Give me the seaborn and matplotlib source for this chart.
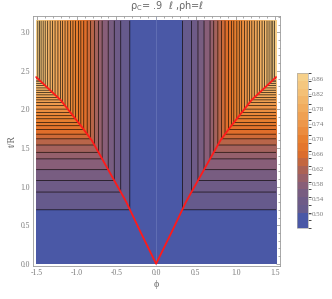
import numpy as np
import matplotlib
matplotlib.use("Agg")
import matplotlib.pyplot as plt
import seaborn as sns
from matplotlib.colors import LinearSegmentedColormap, BoundaryNorm
from matplotlib.cm import ScalarMappable
from matplotlib.ticker import MultipleLocator, FormatStrFormatter

# red boundary curve t_red(|phi|)
phi_red = [0.0, 0.2, 0.375, 0.44, 0.81, 0.94, 1.2, 1.51]
t_red = [0.0, 0.42, 0.80, 0.92, 1.60, 1.78, 2.12, 2.42]

# t positions of the horizontal contour lines (left/right of the V)
t_lines = [0.70, 0.93, 1.08, 1.22, 1.36, 1.445, 1.54, 1.62, 1.68, 1.74,
           1.79, 1.83, 1.88, 1.92, 1.96, 2.005, 2.05, 2.09, 2.125, 2.155,
           2.19, 2.22, 2.25, 2.28, 2.31, 2.335, 2.36, 2.38, 2.40]
t_read = [0.70, 1.00, 1.50, 1.70, 2.00, 2.25, 2.42]
v_read = [0.49, 0.525, 0.605, 0.66, 0.73, 0.80, 0.865]
base_value = 0.47   # blue region (t < 0.7)
top_value = 0.872   # value reached at the end of the red curve

cbar_ticks = [0.50, 0.54, 0.58, 0.62, 0.66, 0.70, 0.74, 0.78, 0.82, 0.86]

vmin, vmax = 0.463, 0.876
cmap = LinearSegmentedColormap.from_list("mma", [
    (0.00, "#4a58a6"), (0.06, "#4a58a6"), (0.07, "#625a8f"),
    (0.19, "#735c84"), (0.285, "#8e5f74"), (0.38, "#b0634f"),
    (0.48, "#e06e2a"), (0.575, "#e88030"), (0.67, "#ed9548"),
    (0.77, "#f0a85a"), (0.865, "#f3bb70"), (1.00, "#f6d08a")])

sns.set_style("white")
plt.rcParams["font.family"] = ["Liberation Serif", "DejaVu Sans"]

fig = plt.figure(figsize=(3.32, 2.99), dpi=100)
ax = fig.add_axes([0.0994, 0.110, 0.744, 0.836])

levels = list(np.interp(t_lines, t_read, v_read))

# field: depends on t below the red curve, on phi above it
phi = np.linspace(-1.51, 1.51, 1200)
t = np.linspace(0.0, 3.15, 1000)
P, T = np.meshgrid(phi, t)
S = np.minimum(T, np.interp(np.abs(P), phi_red, t_red))
F = np.interp(S, [0.0, 0.6999] + t_lines + [2.45],
              [base_value, base_value] + levels + [top_value])

bounds = [vmin] + levels + [vmax]
mids = [(a + b) / 2 for a, b in zip(bounds[:-1], bounds[1:])]
band_colors = [cmap((m - vmin) / (vmax - vmin)) for m in mids]
ax.contourf(P, T, F, levels=bounds, colors=band_colors)
ax.contour(P, T, F, levels=levels, colors="black", linewidths=0.55, alpha=0.8)
ax.axvline(0, color="#8a9ad0", lw=0.4, alpha=0.6)

# red curve
xr = [-v for v in phi_red[::-1]] + phi_red[1:]
yr = t_red[::-1] + t_red[1:]
sns.lineplot(x=xr, y=yr, sort=False, color="#ff1a1a", lw=1.3, ax=ax)

ax.set_xlim(-1.55, 1.56)
ax.set_ylim(-0.03, 3.21)
ax.xaxis.set_major_locator(MultipleLocator(0.5))
ax.xaxis.set_minor_locator(MultipleLocator(0.1))
ax.yaxis.set_major_locator(MultipleLocator(0.5))
ax.yaxis.set_minor_locator(MultipleLocator(0.1))
ax.xaxis.set_major_formatter(FormatStrFormatter("%.1f"))
ax.yaxis.set_major_formatter(FormatStrFormatter("%.1f"))
ax.tick_params(which="both", direction="in", top=True, right=True,
               colors="#888888", labelcolor="#777777", labelsize=5.5, width=0.5)
ax.tick_params(which="major", length=3, pad=2)
ax.tick_params(which="minor", length=1.5)
for sp in ax.spines.values():
    sp.set_color("#999999")
    sp.set_linewidth(0.6)

ax.set_xlabel("ϕ", fontsize=7, color="#666666", labelpad=2)
ax.set_ylabel("t/R", fontsize=7, color="#666666", labelpad=3)
fig.text(167 / 332, 1 - 6 / 299, "ρ$_\\mathregular{C}$= .9  ℓ ,ρh=ℓ",
         ha="center", va="center", fontsize=7, color="#666666",
         family=["DejaVu Sans"])

# banded legend bar
cax = fig.add_axes([297 / 332, 71 / 299, 11 / 332, 155 / 299])
bar_bounds = np.linspace(vmin, vmax, 21)
sm = ScalarMappable(norm=BoundaryNorm(bar_bounds, 256), cmap=cmap)
cb = fig.colorbar(sm, cax=cax, ticks=cbar_ticks, boundaries=bar_bounds)
cb.outline.set_edgecolor("#aaaaaa")
cb.outline.set_linewidth(0.5)
cb.ax.set_yticklabels([f"{v:.2f}" for v in cbar_ticks])
cb.ax.tick_params(labelsize=5, colors="#999999", labelcolor="#777777",
                  length=2, width=0.4, pad=1)

fig.savefig("out.png", dpi=100)
